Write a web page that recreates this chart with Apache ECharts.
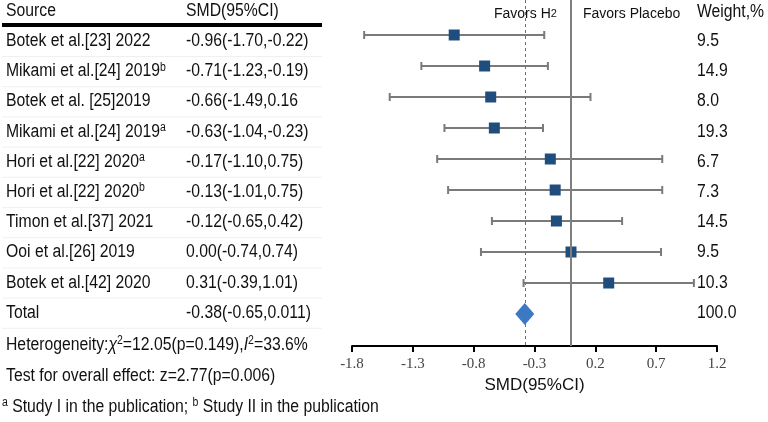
<!DOCTYPE html>
<html>
<head>
<meta charset="utf-8">
<script src="https://cdn.jsdelivr.net/npm/echarts@6/dist/echarts.min.js"></script>
<style>
  html, body { margin: 0; padding: 0; background: #fff; }
  #main { width: 768px; height: 422px; }
</style>
</head>
<body>
<div id="main"></div>
<script>
// study rows
var sourceNames = ['Botek et al.[23] 2022', 'Mikami et al.[24] 2019', 'Botek et al. [25]2019', 'Mikami et al.[24] 2019',
    'Hori et al.[22] 2020', 'Hori et al.[22] 2020', 'Timon et al.[37] 2021', 'Ooi et al.[26] 2019', 'Botek et al.[42] 2020', 'Total'];
var sourceSup = ['', 'b', '', 'a', 'a', 'b', '', '', '', ''];
var smdLabels = ['-0.96(-1.70,-0.22)', '-0.71(-1.23,-0.19)', '-0.66(-1.49,0.16', '-0.63(-1.04,-0.23)', '-0.17(-1.10,0.75)',
    '-0.13(-1.01,0.75)', '-0.12(-0.65,0.42)', '0.00(-0.74,0.74)', '0.31(-0.39,1.01)', '-0.38(-0.65,0.011)'];
var weights = ['9.5', '14.9', '8.0', '19.3', '6.7', '7.3', '14.5', '9.5', '10.3', '100.0'];

var smd = [-0.96, -0.71, -0.66, -0.63, -0.17, -0.13, -0.12, 0.00, 0.31];
var ciLow = [-1.70, -1.23, -1.49, -1.04, -1.10, -1.01, -0.65, -0.74, -0.39];
var ciHigh = [-0.22, -0.19, 0.16, -0.23, 0.75, 0.75, 0.42, 0.74, 1.01];
var pooled = -0.38;

var xTicks = { min: -1.8, max: 1.2, interval: 0.5 };

var FONT = 'Liberation Sans';
var SX = 0.875;

var chart = echarts.init(document.getElementById('main'));

var rich = {
    n: { fontFamily: FONT, fontSize: 18, color: '#111', lineHeight: 20 },
    i: { fontFamily: FONT, fontSize: 18, color: '#111', lineHeight: 20, fontStyle: 'italic' },
    s: { fontFamily: FONT, fontSize: 12, color: '#111', lineHeight: 12, verticalAlign: 'top' },
    f: { fontFamily: FONT, fontSize: 14, color: '#111', lineHeight: 16 },
    fs: { fontFamily: FONT, fontSize: 11, color: '#111', lineHeight: 16 }
};

function txt(x, y, text, sx) {
    return {
        type: 'text', x: x, y: y, scaleX: sx == null ? SX : sx,
        style: { text: text, rich: rich, verticalAlign: 'middle', align: 'left', fill: '#111' },
        z: 10
    };
}

var barData = smd.map(function (v, i) { return [ciLow[i], ciHigh[i], i]; });
var pointData = smd.map(function (v, i) { return [v, i]; });
var tableData = sourceNames.map(function (n, i) { return [xTicks.min, i]; });

var option = {
    animation: false,
    grid: { left: 352, right: 51, top: 0, bottom: 76 },
    xAxis: {
        type: 'value',
        min: xTicks.min,
        max: xTicks.max,
        interval: xTicks.interval,
        splitLine: { show: false },
        axisLine: { onZero: false, lineStyle: { color: '#000', width: 2 } },
        axisTick: { show: true, length: 6, lineStyle: { color: '#000', width: 2 } },
        axisLabel: {
            fontFamily: 'Liberation Serif', fontSize: 15, color: '#444', margin: 11,
            formatter: function (v) { return v.toFixed(1); }
        },
        name: 'SMD(95%CI)',
        nameLocation: 'middle',
        nameGap: 31,
        nameTextStyle: { fontFamily: FONT, fontSize: 17, color: '#111' }
    },
    yAxis: [
        { type: 'value', inverse: true, min: -1.129, max: 10.032, show: false },
        { type: 'value', inverse: true, min: -1.358, max: 10.1, show: false }
    ],
    graphic: [
        txt(6, 11, '{n|Source}'),
        txt(186, 11, '{n|SMD(95%CI)}'),
        { type: 'rect', shape: { x: 2, y: 23, width: 320, height: 4 }, style: { fill: '#000' } },
        txt(494, 14, '{f|Favors H}{fs|2}', 1),
        txt(583, 14, '{f|Favors Placebo}', 1),
        txt(697, 12, '{n|Weight,%}'),
        txt(6, 345, '{n|Heterogeneity:}{i|χ}{s|2}{n|=12.05(p=0.149),}{i|I}{s|2}{n|=33.6%}'),
        txt(6, 376, '{n|Test for overall effect: z=2.77(p=0.006)}'),
        txt(2, 407, '{s|a}{n| Study I in the publication; }{s|b}{n| Study II in the publication}')
    ],
    series: [
        {
            // reference lines
            type: 'scatter',
            data: [],
            z: 1,
            markLine: {
                silent: true,
                symbol: 'none',
                label: { show: false },
                data: [
                    { xAxis: 0, lineStyle: { color: '#7f7f7f', width: 2, type: 'solid' } },
                    { xAxis: pooled, lineStyle: { color: '#4472C4', width: 1, type: [3, 3] } }
                ]
            }
        },
        {
            type: 'custom',
            z: 2,
            data: barData,
            encode: { x: [0, 1], y: 2 },
            renderItem: function (params, api) {
                var a = api.coord([api.value(0), api.value(2)]);
                var b = api.coord([api.value(1), api.value(2)]);
                var st = { stroke: '#7a7a7a', lineWidth: 2 };
                return {
                    type: 'group',
                    children: [
                        { type: 'line', shape: { x1: a[0], y1: a[1], x2: b[0], y2: b[1] }, style: st },
                        { type: 'line', shape: { x1: a[0], y1: a[1] - 4, x2: a[0], y2: a[1] + 4 }, style: st },
                        { type: 'line', shape: { x1: b[0], y1: b[1] - 4, x2: b[0], y2: b[1] + 4 }, style: st }
                    ]
                };
            }
        },
        {
            type: 'scatter',
            z: 3,
            data: pointData,
            symbol: 'rect',
            symbolSize: 11,
            itemStyle: { color: '#1F4E7E', opacity: 1 }
        },
        {
            type: 'scatter',
            z: 3,
            data: [[pooled, smd.length]],
            symbol: 'diamond',
            symbolSize: [19, 22],
            itemStyle: { color: '#3C78C3', opacity: 1 }
        },
        {
            // table text rows
            type: 'custom',
            yAxisIndex: 1,
            z: 5,
            data: tableData,
            renderItem: function (params, api) {
                var i = api.value(1);
                var y = api.coord([xTicks.min, i])[1];
                var sup = sourceSup[i] ? '{s|' + sourceSup[i] + '}' : '';
                return {
                    type: 'group',
                    children: [
                        { type: 'line', shape: { x1: 2, y1: y + 15.5, x2: 322, y2: y + 15.5 }, style: { stroke: '#f0f0f0', lineWidth: 1 } },
                        txt(6, y, '{n|' + sourceNames[i] + '}' + sup),
                        txt(186, y, '{n|' + smdLabels[i] + '}'),
                        txt(697, y, '{n|' + weights[i] + '}')
                    ]
                };
            }
        }
    ]
};

chart.setOption(option);
</script>
</body>
</html>
